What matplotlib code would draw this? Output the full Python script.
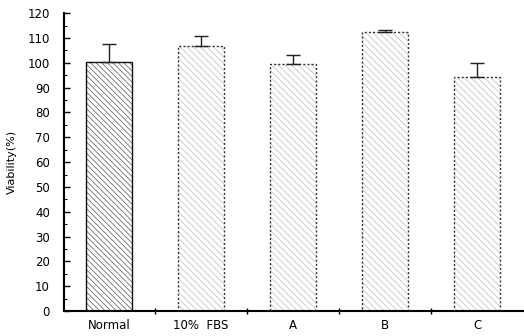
import matplotlib.pyplot as plt
import numpy as np

plt.rcParams["hatch.linewidth"] = 0.5

# data
groups = ["Normal", "10%  FBS", "A", "B", "C"]
viability = [100.5, 106.7, 99.5, 112.3, 94.3]
errors = [7.0, 4.0, 3.5, 1.0, 5.5]

fig = plt.figure(figsize=(5.24, 3.36), dpi=100)
ax = fig.add_axes([0.122, 0.074, 0.878, 0.887])

x = np.arange(len(groups))
for i, (xi, v, e) in enumerate(zip(x, viability, errors)):
    if i == 0:
        ax.bar(xi, v, width=0.5, facecolor="white", edgecolor="#555555",
               hatch="\\\\\\\\\\\\", linewidth=0, zorder=2)
        ax.bar(xi, v, width=0.5, facecolor="none", edgecolor="#111111",
               linewidth=1.0, zorder=3)
    else:
        ax.bar(xi, v, width=0.5, facecolor="white", edgecolor="#bbbbbb",
               hatch="\\\\\\\\\\", linewidth=0, zorder=2)
        ax.bar(xi, v, width=0.5, facecolor="none", edgecolor="#333333",
               linestyle=(0, (1.5, 1.5)), linewidth=1.0, zorder=3)
    ax.errorbar(xi, v, yerr=[[0], [e]], fmt="none", ecolor="#222222",
                elinewidth=1.0, capsize=5, capthick=1.0, zorder=4)

ax.set_xlim(-0.49, 4.51)
ax.set_ylim(0, 120)
ax.set_yticks(np.arange(0, 121, 10))
ax.set_yticks(np.arange(5, 120, 10), minor=True)
ax.set_xticks(x)
ax.set_xticklabels(groups, fontsize=8.5)
ax.set_xticks([0.5, 1.5, 2.5, 3.5], minor=True)
ax.tick_params(axis="x", which="major", length=0, pad=6)
ax.tick_params(axis="x", which="minor", direction="inout", length=5, width=1)
ax.tick_params(axis="y", which="major", direction="in", length=4, width=1,
               labelsize=8.5, pad=10)
ax.tick_params(axis="y", which="minor", direction="in", length=2, width=0.8)

ax.set_ylabel("Viability(%)", fontsize=8, labelpad=8)
ax.spines[["top", "right"]].set_visible(False)
ax.spines["left"].set_linewidth(1.5)
ax.spines["bottom"].set_linewidth(1.5)

fig.savefig("out.png", dpi=100)
